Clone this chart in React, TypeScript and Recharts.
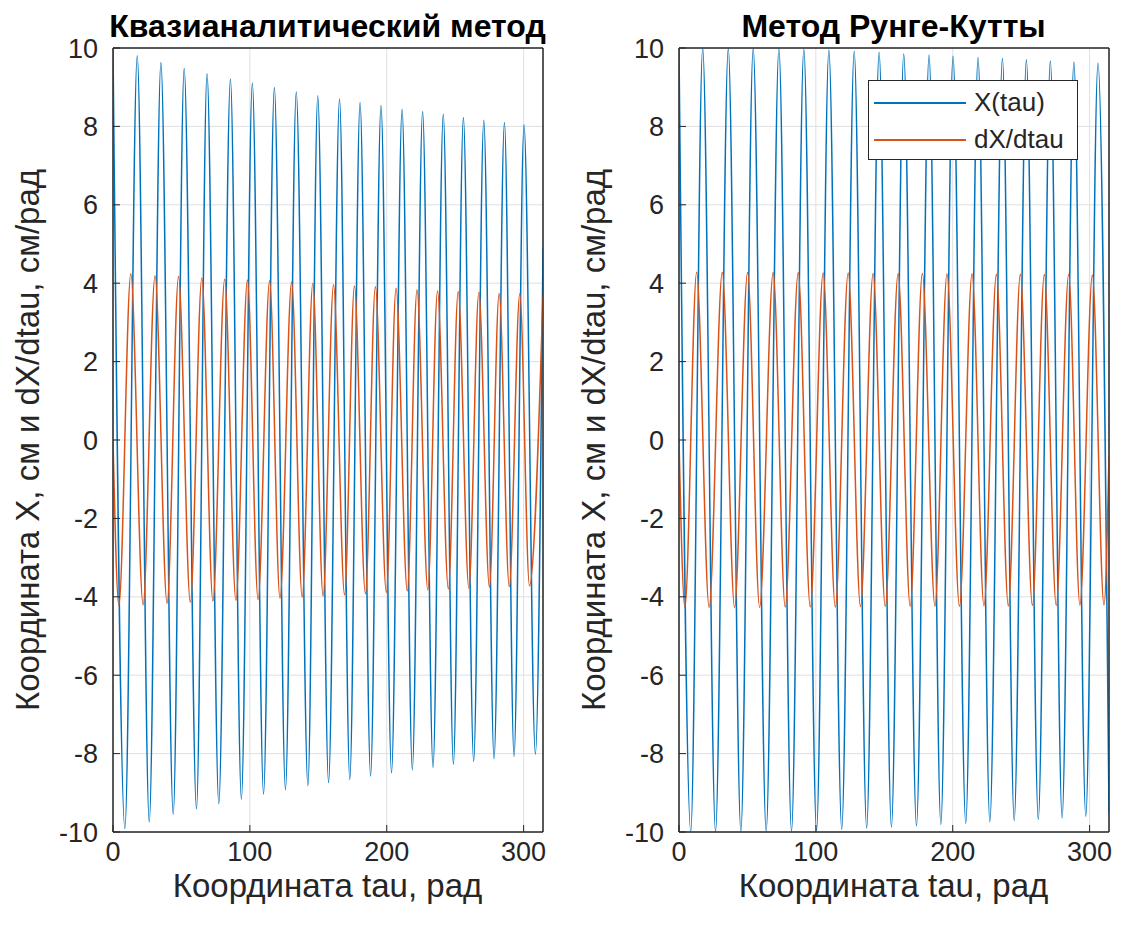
import React from "react";
import { LineChart, Line, XAxis, YAxis, CartesianGrid, Legend, ReferenceArea } from "recharts";

const TAU_END = 314.16;
const xTicks = [0, 100, 200, 300];
const yTicks = [-10, -8, -6, -4, -2, 0, 2, 4, 6, 8, 10];

// Квазианалитический метод: X(tau) peaks / troughs
const quasiXTau = [
  0, 8.7, 17.7, 26.5, 35.0, 44.0, 52.0, 61.0, 68.7, 77.3, 85.8, 93.8, 101.8, 110.0,
  117.9, 126.0, 133.9, 142.4, 149.6, 157.5, 165.5, 173.0, 180.5, 188.2, 195.8, 203.5,
  211.2, 218.7, 226.2, 233.8, 241.3, 248.7, 256.0, 263.5, 270.9, 278.4, 286.0, 293.0,
  300.3, 308.6, 314.16,
];
const quasiXVal = [
  10, -9.91, 9.8, -9.74, 9.63, -9.55, 9.48, -9.41, 9.34, -9.28, 9.21, -9.16, 9.1, -9.03,
  8.99, -8.92, 8.88, -8.82, 8.78, -8.74, 8.7, -8.66, 8.61, -8.57, 8.53, -8.49,
  8.44, -8.41, 8.38, -8.35, 8.31, -8.27, 8.23, -8.2, 8.16, -8.13, 8.1, -8.07,
  8.04, -8.01, 4.9,
];
// Квазианалитический метод: dX/dtau
const quasiDTau = [
  0, 4.3, 13.0, 22.0, 30.7, 39.5, 47.9, 56.5, 64.9, 73.0, 81.6, 89.8, 98.2, 106.0,
  114.4, 122.0, 130.5, 138.2, 146.0, 153.5, 161.1, 169.2, 176.4, 184.4, 191.7, 199.7,
  206.8, 215.0, 222.1, 230.0, 237.1, 245.0, 252.2, 260.0, 267.3, 275.0, 282.1, 289.5,
  297.2, 304.3, 314.16,
];
const quasiDVal = [
  0, -4.22, 4.24, -4.2, 4.19, -4.17, 4.17, -4.14, 4.13, -4.11, 4.1, -4.09, 4.08, -4.07,
  4.06, -4.04, 4.03, -4.01, 4.0, -3.98, 3.96, -3.95, 3.93, -3.92, 3.91, -3.89,
  3.87, -3.85, 3.83, -3.82, 3.8, -3.8, 3.79, -3.78, 3.77, -3.75, 3.74, -3.74,
  3.73, -3.72, 3.7,
];

// Метод Рунге-Кутты: X(tau)
const rkXTau = [
  0, 8.6, 17.3, 26.7, 36.0, 45.2, 54.2, 63.7, 73.0, 82.2, 91.2, 100.5, 109.5, 118.9,
  128.0, 137.1, 146.2, 155.2, 164.2, 173.5, 182.7, 191.3, 200.2, 209.5, 218.5, 227.1,
  236.3, 244.9, 253.8, 262.5, 271.3, 279.9, 288.5, 297.2, 306.1, 314.16,
];
const rkXVal = [
  10, -9.99, 10, -9.99, 9.99, -9.99, 9.99, -9.98, 9.98, -9.98, 9.97, -9.96, 9.95, -9.93,
  9.92, -9.9, 9.89, -9.87, 9.85, -9.84, 9.82, -9.81, 9.79, -9.78, 9.76, -9.74,
  9.73, -9.71, 9.7, -9.68, 9.67, -9.64, 9.64, -9.6, 9.61, -9.5,
];
// Метод Рунге-Кутты: dX/dtau
const rkDTau = [
  0, 4.3, 12.9, 22.0, 31.6, 40.6, 50.1, 58.9, 68.8, 77.6, 87.1, 95.9, 105.3, 114.2,
  123.6, 132.6, 141.8, 150.7, 160.1, 168.9, 177.8, 187.0, 195.8, 204.9, 214.1, 222.8,
  231.9, 240.6, 249.4, 258.2, 266.9, 275.6, 284.7, 292.9, 302.0, 310.5, 314.16,
];
const rkDVal = [
  0, -4.27, 4.28, -4.27, 4.28, -4.27, 4.27, -4.27, 4.27, -4.26, 4.27, -4.26, 4.26, -4.26,
  4.26, -4.25, 4.25, -4.25, 4.25, -4.24, 4.25, -4.24, 4.24, -4.24, 4.24, -4.23,
  4.23, -4.23, 4.23, -4.22, 4.22, -4.22, 4.22, -4.21, 4.21, -4.21, -0.4,
];

const toRows = (tau: number[], val: number[]) => tau.map((t, i) => ({ t, v: val[i] }));

const FONT = "'Liberation Sans', Arial, Helvetica, sans-serif";
const INK = "#262626";
const BLUE = "#0072BD";
const ORANGE = "#D95319";

const tickStyle = { fontSize: 27, fill: INK, fontFamily: FONT };

function MatlabLegend({ payload }: any) {
  return (
    <div
      style={{
        width: 208,
        height: 78,
        background: "#fff",
        border: `1px solid ${INK}`,
        fontFamily: FONT,
        fontSize: 26,
        color: INK,
      }}
    >
      {(payload || []).map((p: any, i: number) => (
        <div key={i} style={{ display: "flex", alignItems: "center", height: 37, marginTop: i === 0 ? 3 : 0 }}>
          <div style={{ width: 92, height: 2, background: p.color, marginLeft: 5, marginRight: 8 }} />
          <span>{p.value}</span>
        </div>
      ))}
    </div>
  );
}

interface PanelProps {
  title: string;
  left: number;
  width: number;
  xRows: { t: number; v: number }[];
  dRows: { t: number; v: number }[];
  showLegend?: boolean;
}

function Panel({ title, left, width, xRows, dRows, showLegend }: PanelProps) {
  const plotLeft = 113;
  const plotRight = width - 20;
  const plotCx = (plotLeft + plotRight) / 2;
  return (
    <div style={{ position: "absolute", left, top: 0, width, height: 933 }}>
      <div
        style={{
          position: "absolute",
          left: plotCx - 300,
          width: 600,
          top: 8,
          textAlign: "center",
          fontFamily: FONT,
          fontWeight: "bold",
          fontSize: 32,
          color: "#000",
        }}
      >
        {title}
      </div>
      <div
        style={{
          position: "absolute",
          left: plotCx - 300,
          width: 600,
          top: 869,
          height: 33,
          lineHeight: "33px",
          textAlign: "center",
          fontFamily: FONT,
          fontSize: 33,
          color: INK,
        }}
      >
        Координата tau, рад
      </div>
      <div
        style={{
          position: "absolute",
          left: 28 - 450,
          top: 440 - 20,
          width: 900,
          height: 40,
          lineHeight: "40px",
          textAlign: "center",
          transform: "rotate(-90deg)",
          fontFamily: FONT,
          fontSize: 33,
          color: INK,
        }}
      >
        Координата X, см и dX/dtau, см/рад
      </div>
      <LineChart
        width={width}
        height={933}
        margin={{ top: 48, right: width - plotRight - 1, bottom: 0, left: 0 }}
      >
        <CartesianGrid stroke="#dfdfdf" strokeWidth={1} />
        <XAxis
          dataKey="t"
          type="number"
          domain={[0, TAU_END]}
          ticks={xTicks}
          allowDataOverflow
          height={101}
          axisLine={{ stroke: INK }}
          tickLine={{ stroke: INK }}
          tickSize={-7}
          tickMargin={17}
          tick={tickStyle}
        />
        <YAxis
          type="number"
          domain={[-10, 10]}
          ticks={yTicks}
          allowDataOverflow
          width={plotLeft}
          axisLine={{ stroke: INK }}
          tickLine={{ stroke: INK }}
          tickSize={-7}
          tickMargin={22}
          tick={tickStyle}
          tickFormatter={(v: number) => String(v)}
        />
        <XAxis
          xAxisId="top"
          orientation="top"
          mirror
          height={1}
          type="number"
          domain={[0, TAU_END]}
          ticks={xTicks}
          tick={false}
          tickSize={7}
          stroke={INK}
        />
        <YAxis
          yAxisId="right"
          orientation="right"
          mirror
          width={1}
          type="number"
          domain={[-10, 10]}
          ticks={yTicks}
          tick={false}
          tickSize={7}
          stroke={INK}
        />
        {showLegend && (
          <Legend
            layout="vertical"
            align="center"
            verticalAlign="middle"
            wrapperStyle={{ left: 868 - left, top: 80, width: 210, height: 80 }}
            content={MatlabLegend}
          />
        )}
        <Line
          data={xRows}
          dataKey="v"
          name="X(tau)"
          type="monotone"
          stroke={BLUE}
          strokeWidth={1.5}
          dot={false}
          isAnimationActive={false}
        />
        <Line
          data={dRows}
          dataKey="v"
          name="dX/dtau"
          type="monotone"
          stroke={ORANGE}
          strokeWidth={1.5}
          dot={false}
          isAnimationActive={false}
        />
        <ReferenceArea x1={0} x2={TAU_END} y1={-10} y2={10} fill="none" stroke={INK} strokeWidth={1} />
      </LineChart>
    </div>
  );
}

export default function App() {
  return (
    <div style={{ position: "absolute", left: 0, top: 0, width: 1125, height: 933, background: "#fff" }}>
      <Panel
        title="Квазианалитический метод"
        left={0}
        width={562}
        xRows={toRows(quasiXTau, quasiXVal)}
        dRows={toRows(quasiDTau, quasiDVal)}
      />
      <Panel
        title="Метод Рунге-Кутты"
        left={566}
        width={562}
        xRows={toRows(rkXTau, rkXVal)}
        dRows={toRows(rkDTau, rkDVal)}
        showLegend
      />
    </div>
  );
}
